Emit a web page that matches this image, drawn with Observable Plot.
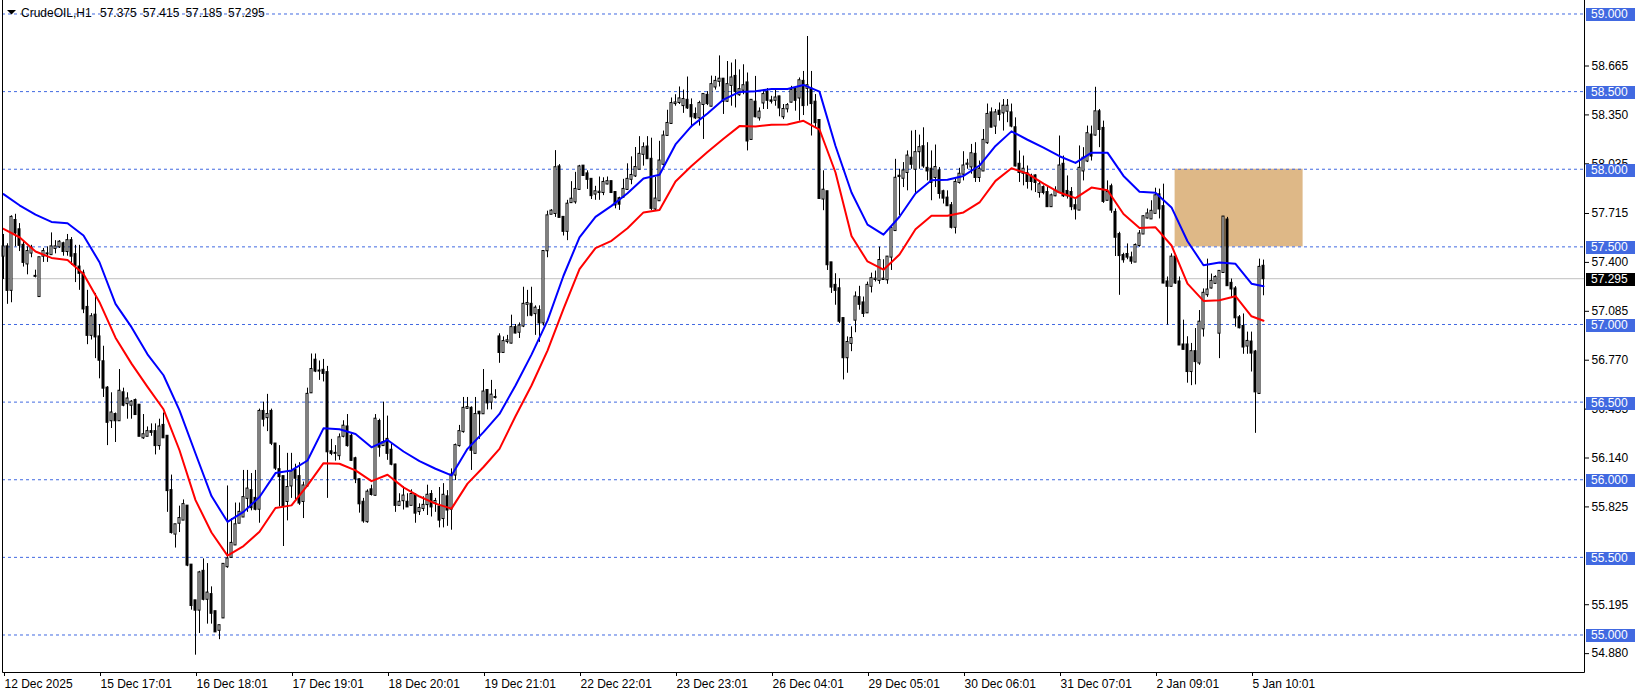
<!DOCTYPE html>
<html>
<head>
<meta charset="utf-8">
<script src="https://cdn.jsdelivr.net/npm/d3@7"></script>
<script src="https://cdn.jsdelivr.net/npm/@observablehq/plot@0.6"></script>
<style>html,body{margin:0;padding:0;background:#fff;overflow:hidden}</style>
</head>
<body>
<div id="chart"></div>
<script>
const FONT = "'Liberation Sans', Arial, sans-serif";
const symbol = "CrudeOIL,H1";

// hourly candles, oldest first
const open = [
57.44,57.50,57.22,57.67,57.61,57.51,57.39,57.46,57.31,57.18,
57.44,57.455,57.45,57.49,57.50,57.52,57.47,57.54,57.45,57.37,
57.33,57.11,56.93,57.06,56.92,56.76,56.59,56.38,56.42,56.38,
56.56,56.49,56.48,56.51,56.48,56.27,56.28,56.31,56.31,56.22,
56.35,56.28,55.93,55.65,55.72,55.74,55.83,55.45,55.22,55.16,
55.41,55.23,55.26,55.15,55.03,55.11,55.44,55.50,55.58,55.72,
55.76,55.88,55.93,55.88,55.81,56.44,56.40,56.44,56.23,56.065,
56.02,55.86,55.96,56.06,56.02,55.86,55.96,56.56,56.77,56.70,
56.705,56.69,56.18,56.17,56.155,56.28,56.34,56.28,56.135,56.00,
55.855,55.73,55.935,55.90,56.375,56.22,56.26,56.19,56.095,55.835,
55.865,55.855,55.835,55.90,55.795,55.815,55.84,55.905,55.85,55.825,
55.75,55.89,55.81,56.03,56.22,56.31,56.46,56.46,56.17,56.435,
56.425,56.575,56.50,56.53,56.92,56.82,56.89,56.88,56.98,56.95,
56.99,57.13,57.13,57.07,57.09,57.01,57.475,57.71,57.715,58.015,
57.69,57.60,57.785,57.79,57.87,58.02,57.97,57.935,57.84,57.85,
57.85,57.905,57.92,57.85,57.81,57.82,57.87,57.935,57.957,58.00,
58.096,58.143,58.064,57.744,57.797,58.032,58.218,58.295,58.423,58.43,
58.41,58.444,58.41,58.353,58.331,58.417,58.476,58.406,58.53,58.566,
58.58,58.438,58.54,58.598,58.48,58.509,58.556,58.192,58.432,58.331,
58.427,58.495,58.44,58.444,58.466,58.338,58.389,58.432,58.517,58.459,
58.566,58.521,58.517,58.432,58.314,57.808,57.855,57.397,57.252,57.23,
57.038,56.786,56.878,57.028,57.173,57.139,57.075,57.246,57.29,57.284,
57.29,57.288,57.434,57.605,57.955,57.942,57.979,58.071,58.00,58.113,
58.145,58.006,58.00,57.947,57.989,57.855,57.814,57.765,57.626,57.915,
57.968,58.032,58.015,58.096,57.947,57.989,58.171,58.363,58.278,58.374,
58.363,58.374,58.363,58.267,58.032,57.974,57.972,57.95,57.957,57.85,
57.882,57.85,57.759,57.829,57.85,58.032,57.857,57.85,57.765,57.737,
57.989,58.053,58.22,58.22,58.37,58.263,57.80,57.887,57.722,57.579,
57.444,57.451,57.429,57.402,57.509,57.583,57.686,57.68,57.716,57.835,
57.759,57.274,57.246,57.434,57.274,56.868,56.868,56.697,56.825,56.752,
56.972,57.192,57.235,57.265,56.944,57.335,57.673,57.265,57.229,57.043,
56.987,56.861,56.887,56.823,56.556,57.375
];
const high = [
57.58,57.52,57.70,57.71,57.65,57.54,57.50,57.51,57.35,57.43,
57.49,57.50,57.59,57.54,57.54,57.53,57.58,57.56,57.51,57.51,
57.35,57.22,57.07,57.20,57.00,56.86,56.60,56.56,56.43,56.71,
56.59,56.56,56.51,56.52,56.48,56.42,56.34,56.36,56.36,56.39,
56.43,56.28,56.03,55.71,55.83,55.87,55.83,55.45,55.22,55.41,
55.49,55.46,55.31,55.15,55.06,55.455,55.96,55.75,55.85,55.85,
56.06,56.06,56.04,56.06,56.455,56.50,56.55,56.455,56.23,56.22,
56.02,56.17,56.17,56.10,56.11,55.985,56.59,56.81,56.81,56.765,
56.775,56.73,56.26,56.22,56.295,56.38,56.42,56.295,56.145,56.005,
55.88,55.935,55.965,56.42,56.39,56.50,56.41,56.23,56.10,55.91,
55.955,55.91,55.935,55.91,55.845,55.89,55.965,55.93,55.88,55.95,
55.975,55.93,56.07,56.23,56.35,56.53,56.53,56.47,56.53,56.44,
56.71,56.575,56.64,56.58,56.94,56.92,56.93,57.06,57.00,57.01,
57.24,57.22,57.24,57.12,57.12,57.475,57.73,57.74,58.12,58.03,
57.69,57.80,57.92,57.98,58.025,58.02,57.99,57.935,57.89,57.95,
57.945,57.95,57.92,57.85,57.82,57.935,58.035,58.08,58.14,58.21,
58.17,58.21,58.20,57.947,58.18,58.246,58.38,58.459,58.48,58.53,
58.51,58.594,58.453,58.395,58.438,58.481,58.50,58.60,58.598,58.73,
58.585,58.694,58.684,58.705,58.64,58.673,58.62,58.444,58.598,58.395,
58.50,58.52,58.47,58.51,58.47,58.417,58.423,58.534,58.523,58.588,
58.63,58.855,58.63,58.481,58.316,57.99,57.855,57.397,57.327,57.295,
57.038,56.92,56.985,57.21,57.246,57.177,57.273,57.331,57.344,57.498,
57.417,57.438,57.637,58.064,58.00,58.043,58.118,58.246,58.25,58.22,
58.267,58.171,58.118,58.156,58.011,57.865,57.861,57.786,57.936,58.006,
58.113,58.064,58.16,58.171,58.053,58.256,58.42,58.395,58.385,58.427,
58.449,58.449,58.42,58.331,58.118,58.085,58.021,57.968,57.964,57.915,
57.893,57.882,57.84,57.887,58.214,58.085,57.957,57.882,57.808,58.15,
58.139,58.278,58.278,58.528,58.385,58.31,57.925,57.904,57.744,57.594,
57.459,57.519,57.466,57.519,57.605,57.701,57.744,57.797,57.878,57.872,
57.904,57.306,57.455,57.451,57.306,57.028,56.921,56.878,56.974,57.09,
57.229,57.421,57.325,57.314,57.342,57.692,57.69,57.293,57.244,57.058,
57.068,56.951,56.951,56.833,57.421,57.415
];
const low = [
57.29,57.13,57.14,57.50,57.47,57.37,57.32,57.43,57.30,57.18,
57.40,57.40,57.45,57.455,57.49,57.44,57.44,57.38,57.27,57.22,
57.07,56.87,56.90,56.78,56.65,56.53,56.22,56.33,56.24,56.38,
56.47,56.39,56.39,56.42,56.28,56.26,56.28,56.28,56.16,56.19,
56.27,55.79,55.65,55.56,55.66,55.74,55.44,55.16,54.87,55.01,
55.22,55.07,55.07,55.02,54.97,55.11,55.43,55.50,55.58,55.72,
55.76,55.79,55.80,55.80,55.72,56.34,56.31,56.22,56.06,55.825,
55.57,55.735,55.88,55.87,55.835,55.75,55.95,56.56,56.69,56.64,
56.63,55.88,56.155,56.12,56.125,56.27,56.21,56.12,55.975,55.785,
55.72,55.72,55.895,55.895,56.145,56.22,56.125,56.09,55.79,55.835,
55.805,55.825,55.835,55.72,55.77,55.795,55.77,55.76,55.79,55.69,
55.69,55.70,55.675,55.995,56.21,56.30,56.455,56.06,56.17,56.26,
56.425,56.45,56.45,56.52,56.75,56.82,56.875,56.875,56.94,56.91,
56.98,57.05,57.05,56.93,56.885,56.99,57.43,57.71,57.69,57.69,
57.57,57.54,57.78,57.775,57.87,57.955,57.87,57.805,57.80,57.80,
57.83,57.90,57.845,57.745,57.735,57.815,57.865,57.90,57.947,58.00,
58.02,58.064,57.733,57.733,57.797,58.021,58.214,58.289,58.406,58.417,
58.36,58.385,58.267,58.32,58.278,58.192,58.41,58.402,58.51,58.53,
58.353,58.43,58.406,58.395,58.47,58.48,58.118,58.192,58.331,58.31,
58.385,58.385,58.42,58.406,58.338,58.32,58.363,58.427,58.374,58.31,
58.346,58.406,58.214,58.267,57.808,57.733,57.348,57.20,57.124,57.006,
56.643,56.686,56.825,56.947,57.092,57.045,57.071,57.203,57.274,57.259,
57.284,57.259,57.348,57.605,57.70,57.882,57.861,58.00,57.84,58.00,
58.006,57.925,57.797,57.882,57.808,57.776,57.765,57.615,57.583,57.904,
57.925,58.00,57.968,57.915,57.915,57.985,58.16,58.267,58.224,58.31,
58.246,58.30,58.267,58.015,57.915,57.893,57.872,57.861,57.85,57.814,
57.835,57.754,57.754,57.823,57.85,57.818,57.808,57.733,57.673,57.733,
57.925,58.043,58.053,58.214,58.139,57.78,57.797,57.716,57.438,57.188,
57.395,57.417,57.387,57.402,57.498,57.583,57.68,57.68,57.716,57.68,
57.263,56.996,57.241,57.259,56.868,56.836,56.622,56.606,56.611,56.737,
56.919,57.175,57.229,57.261,56.78,57.33,57.25,57.175,56.983,56.972,
56.808,56.808,56.694,56.299,56.551,57.185
];
const close = [
57.50,57.22,57.69,57.59,57.51,57.40,57.47,57.49,57.31,57.43,
57.47,57.455,57.50,57.50,57.53,57.47,57.54,57.44,57.38,57.33,
57.10,56.93,57.05,56.92,56.77,56.59,56.37,56.43,56.38,56.57,
56.48,56.52,56.50,56.42,56.28,56.29,56.31,56.305,56.22,56.34,
56.27,55.93,55.66,55.71,55.75,55.84,55.45,55.19,55.16,55.40,
55.23,55.27,55.14,55.02,55.06,55.455,55.49,55.59,55.71,55.79,
55.885,55.94,55.82,55.81,56.44,56.39,56.42,56.235,56.075,56.02,
55.83,55.95,56.05,56.01,55.85,55.96,56.55,56.71,56.70,56.70,
56.685,56.18,56.17,56.17,56.27,56.345,56.22,56.125,56.005,55.845,
55.735,55.92,55.905,56.39,56.21,56.24,56.17,56.10,55.835,55.855,
55.895,55.825,55.905,55.785,55.815,55.835,55.90,55.825,55.86,55.74,
55.90,55.805,56.03,56.22,56.31,56.46,56.465,56.19,56.42,56.425,
56.565,56.495,56.545,56.53,56.82,56.89,56.895,56.98,56.945,56.99,
57.13,57.135,57.06,57.105,57.01,57.47,57.70,57.73,58.01,57.69,
57.60,57.775,57.807,57.87,58.015,57.96,57.935,57.83,57.855,57.852,
57.915,57.92,57.85,57.77,57.775,57.87,57.935,57.96,58.011,58.096,
58.139,58.068,57.748,57.808,58.053,58.214,58.295,58.423,58.427,58.453,
58.449,58.395,58.338,58.331,58.423,58.481,58.423,58.545,58.566,58.58,
58.438,58.545,58.588,58.502,58.513,58.538,58.182,58.444,58.338,58.368,
58.481,58.444,58.438,58.459,58.395,58.385,58.41,58.508,58.444,58.57,
58.41,58.538,58.423,58.30,57.812,57.865,57.385,57.241,57.22,57.021,
56.786,56.884,56.91,57.177,57.13,57.071,57.252,57.295,57.292,57.412,
57.292,57.434,57.62,57.942,57.953,57.989,58.085,58.032,58.107,58.139,
58.021,57.989,57.915,58.011,57.844,57.814,57.765,57.626,57.915,57.968,
58.021,58.033,58.10,57.947,58.00,58.186,58.353,58.271,58.363,58.353,
58.406,58.406,58.278,58.021,57.979,58.00,57.921,57.921,57.915,57.90,
57.85,57.759,57.829,57.861,58.021,57.829,57.829,57.759,57.744,58.006,
58.071,58.229,58.085,58.37,58.256,57.793,57.85,57.737,57.562,57.444,
57.417,57.434,57.408,57.509,57.583,57.694,57.712,57.729,57.829,57.744,
57.267,57.246,57.434,57.267,56.868,56.84,56.697,56.825,56.761,57.015,
57.201,57.222,57.278,57.303,57.342,57.692,57.25,57.229,57.043,56.979,
56.855,56.891,56.816,56.566,57.368,57.295
];

// indicator lines (blue / red), sampled at these bars
const maBars = [1,5,9,13,17,21,25,29,33,37,41,45,49,53,57,61,65,69,73,77,
81,85,89,93,97,101,105,109,113,117,121,125,129,133,137,141,145,149,153,157,
161,165,169,173,177,181,185,189,193,197,201,205,209,213,217,221,225,229,233,237,
241,245,249,253,257,261,265,269,273,277,281,285,289,293,297,301,305,309,313,316];
const blueMA = [57.84,57.768,57.708,57.661,57.652,57.573,57.401,57.133,56.983,56.808,
56.673,56.447,56.169,55.895,55.729,55.793,55.889,56.043,56.060,56.124,
56.331,56.325,56.295,56.209,56.256,56.182,56.12,56.071,56.028,56.199,
56.307,56.424,56.607,56.806,57.025,57.314,57.561,57.693,57.764,57.845,
57.94,57.964,58.160,58.278,58.359,58.449,58.498,58.502,58.517,58.517,
58.543,58.50,58.150,57.850,57.643,57.579,57.694,57.844,57.929,57.932,
57.957,58.024,58.150,58.244,58.190,58.139,58.084,58.041,58.107,58.107,
57.957,57.855,57.848,57.754,57.536,57.382,57.400,57.391,57.263,57.246];
const redMA = [57.616,57.562,57.470,57.429,57.416,57.326,57.144,56.915,56.748,56.598,
56.454,56.190,55.869,55.66,55.511,55.573,55.665,55.818,55.835,55.964,
56.107,56.103,56.060,55.991,56.032,55.951,55.892,55.846,55.814,55.975,
56.082,56.199,56.409,56.607,56.832,57.100,57.357,57.492,57.539,57.62,
57.722,57.737,57.921,58.021,58.111,58.197,58.278,58.276,58.286,58.288,
58.312,58.256,57.979,57.57,57.406,57.353,57.451,57.613,57.701,57.701,
57.722,57.786,57.925,58.006,57.972,57.908,57.85,57.814,57.882,57.865,
57.712,57.622,57.626,57.509,57.263,57.152,57.156,57.182,57.053,57.024];

const levels = [59.0, 58.5, 58.0, 57.5, 57.0, 56.5, 56.0, 55.5, 55.0];
const yTicks = [54.880, 55.195, 55.825, 56.140, 56.455, 56.770, 57.085, 57.400, 57.715, 58.035, 58.350, 58.665];
const xTickBars = [1, 25, 49, 73, 97, 121, 145, 169, 193, 217, 241, 265, 289, 313];
const xTickLabels = ["12 Dec 2025","15 Dec 17:01","16 Dec 18:01","17 Dec 19:01","18 Dec 20:01","19 Dec 21:01","22 Dec 22:01","23 Dec 23:01","26 Dec 04:01","29 Dec 05:01","30 Dec 06:01","31 Dec 07:01","2 Jan 09:01","5 Jan 10:01"];
const zoneFrom = [293.9];
const zoneTo = [325.9];
const zoneLow = [57.5];
const zoneHigh = [58.0];

const bars = close.map((c, k) => ({i: k + 1, open: open[k], high: high[k], low: low[k], close: c}));
const blueRows = maBars.map((b, k) => ({i: b, v: blueMA[k]}));
const redRows = maBars.map((b, k) => ({i: b, v: redMA[k]}));
const zone = zoneFrom.map((f, k) => ({from: f, to: zoneTo[k], low: zoneLow[k], high: zoneHigh[k]}));
const labelOf = new Map(xTickBars.map((b, k) => [b, xTickLabels[k]]));
const last = bars[bars.length - 1];

const chart = Plot.plot({
  width: 1641, height: 696,
  marginLeft: 2, marginRight: 57, marginTop: 3, marginBottom: 24,
  style: {fontFamily: FONT, fontSize: "12px", background: "#fff", overflow: "visible"},
  x: {type: "linear", domain: [0.75, 396.25], axis: null},
  y: {type: "linear", domain: [54.75845, 59.06763], axis: null},
  marks: [
    Plot.rect(zone, {x1: "from", x2: "to", y1: "low", y2: "high", fill: "#deb887"}),
    Plot.ruleY(levels, {stroke: "#4169e1", strokeDasharray: "3,3"}),
    Plot.ruleY([last.close], {stroke: "#c0c0c0"}),
    Plot.ruleX(bars, {x: "i", y1: "low", y2: "high", stroke: "#000"}),
    Plot.rect(bars, {x1: d => d.i - 0.25, x2: d => d.i + 0.25, y1: "open", y2: "close",
      fill: d => d.close >= d.open ? "#fff" : "#000", stroke: "#000", insetTop: -0.5, insetBottom: -0.5}),
    Plot.line(blueRows, {x: "i", y: "v", stroke: "#0000ff", strokeWidth: 2}),
    Plot.line(redRows, {x: "i", y: "v", stroke: "#ff0000", strokeWidth: 2}),
    Plot.axisY(yTicks, {anchor: "right", tickSize: 4, tickPadding: 3, tickFormat: d => d.toFixed(3), label: null, fill: "#000"}),
    Plot.axisX(xTickBars, {anchor: "bottom", tickSize: 4, tickPadding: 3, textAnchor: "start", dx: 1,
      tickFormat: d => labelOf.get(d), label: null, fill: "#000"})
  ]
});
document.getElementById("chart").appendChild(chart);

const svg = d3.select(chart);
const ys = chart.scale("y");

// chart border
svg.append("path").attr("d", "M2.5,0V672.5H1584.5V0").attr("fill", "none").attr("stroke", "#000");

// price tags
const tags = svg.append("g").attr("text-anchor", "start").style("font-family", FONT).style("font-size", "12px");
function tag(v, bg) {
  const y = Math.round(ys.apply(v)) + 0.5;
  tags.append("rect").attr("x", 1586).attr("y", Math.round(y) - 6).attr("width", 49).attr("height", 13).attr("fill", bg);
  tags.append("text").attr("x", 1591).attr("y", y).attr("dy", "0.36em").attr("fill", "#fff").text(v.toFixed(3));
}
levels.forEach(v => tag(v, "#4169e1"));
tag(last.close, "#000");

// header
const head = svg.append("g").attr("text-anchor", "start").style("font-family", FONT).style("font-size", "12px").attr("fill", "#000");
head.append("path").attr("d", "M7,10H16L11.5,14.5Z");
head.append("text").attr("x", 21).attr("y", 13).attr("dy", "0.36em").text(symbol);
[last.open, last.high, last.low, last.close].forEach((v, k) =>
  head.append("text").attr("x", 100 + k * 42.7).attr("y", 13).attr("dy", "0.36em").text(v.toFixed(3)));
</script>
</body>
</html>
